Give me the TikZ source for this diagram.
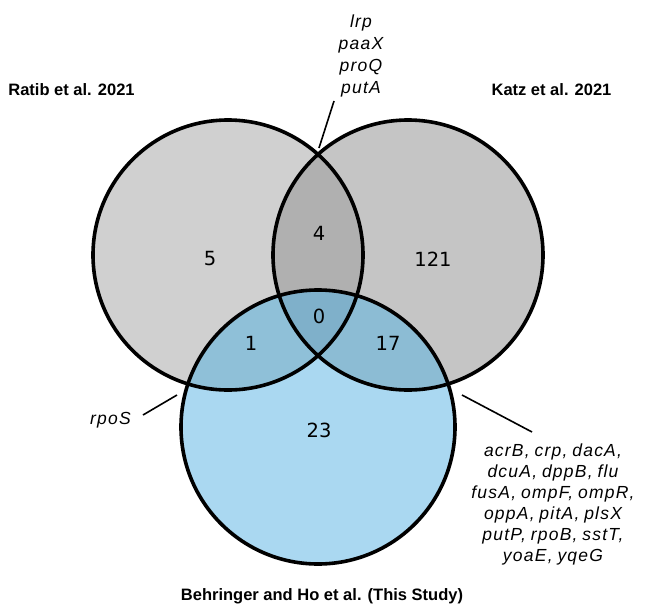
\documentclass[tikz,border=0pt]{standalone}
\usepackage{fontspec}
\setmainfont{Liberation Sans}
\newfontfamily\numfont{DejaVu Sans}
\newfontfamily\genefont[LetterSpace=7,WordSpace=0.8]{Liberation Sans}
\definecolor{cL}{RGB}{208,208,208}
\definecolor{cR}{RGB}{197,197,197}
\definecolor{cLR}{RGB}{176,176,176}
\definecolor{cC}{RGB}{170,216,241}
\definecolor{cLC}{RGB}{143,192,216}
\definecolor{cRC}{RGB}{140,188,212}
\definecolor{cLRC}{RGB}{127,176,202}
\begin{document}
\begin{tikzpicture}[x=1pt,y=-1pt,
  outline/.style={draw=black,line width=3.6pt},
  conn/.style={draw=black,line width=1.6pt},
  title/.style={font=\bfseries\fontsize{16.5}{19}\selectfont,anchor=base,inner sep=0pt},
  gene/.style={font=\genefont\itshape\fontsize{17.5}{20}\selectfont,anchor=base,inner sep=0pt},
  num/.style={font=\numfont\fontsize{19.5}{22}\selectfont,inner sep=0pt}]
\useasboundingbox (0,0) rectangle (647,605);
\coordinate (A) at (228,255);
\coordinate (B) at (408,255);
\coordinate (C) at (318,427);
% fills
\fill[cL] (A) circle[radius=135];
\fill[cR] (B) circle[radius=135];
\begin{scope}
  \clip (A) circle[radius=135];
  \fill[cLR] (B) circle[radius=135];
\end{scope}
\fill[cC] (C) circle[radius=137];
\begin{scope}
  \clip (C) circle[radius=137];
  \fill[cLC] (A) circle[radius=135];
  \fill[cRC] (B) circle[radius=135];
  \clip (A) circle[radius=135];
  \fill[cLRC] (B) circle[radius=135];
\end{scope}
% outlines
\draw[outline] (A) circle[radius=135];
\draw[outline] (B) circle[radius=135];
\draw[outline] (C) circle[radius=137];
% titles
\node[title] (tR) at (71.5,95) {Ratib et al. 2021};
\node[title] (tK) at (551.5,95) {Katz et al. 2021};
\node[title] (tB) at (322,600.5) {Behringer and Ho et al. (This Study)};
% numbers
\node[num] (n5) at (210,259) {5};
\node[num] (n4) at (319,233) {4};
\node[num] (n121) at (433,259) {121};
\node[num] (n0) at (319,316) {0};
\node[num] (n1) at (251,343) {1};
\node[num] (n17) at (388,343) {17};
\node[num] (n23) at (319,430) {23};
% top gene list
\node[gene] (g1) at (361,27.7) {lrp};
\node[gene] (g2) at (361,49.6) {paaX};
\node[gene] (g3) at (361,71.5) {proQ};
\node[gene] (g4) at (361,93.4) {putA};
% rpoS
\node[gene] (gs) at (110.5,424.5) {rpoS};
% bottom right gene list
\node[gene] (h1) at (553,456.7) {acrB, crp, dacA,};
\node[gene] (h2) at (553,477.7) {dcuA, dppB, flu};
\node[gene] (h3) at (553,498.7) {fusA, ompF, ompR,};
\node[gene] (h4) at (553,519.7) {oppA, pitA, plsX};
\node[gene] (h5) at (553,540.7) {putP, rpoB, sstT,};
\node[gene] (h6) at (553,561.7) {yoaE, yqeG};
% connectors
\coordinate (c1a) at (319,148);
\coordinate (c1b) at (334,101);
\coordinate (c2a) at (143,415);
\coordinate (c2b) at (177,395);
\coordinate (c3a) at (462,395);
\coordinate (c3b) at (532,432);
\draw[conn] (c1a) -- (c1b);
\draw[conn] (c2a) -- (c2b);
\draw[conn] (c3a) -- (c3b);
\end{tikzpicture}
\end{document}
